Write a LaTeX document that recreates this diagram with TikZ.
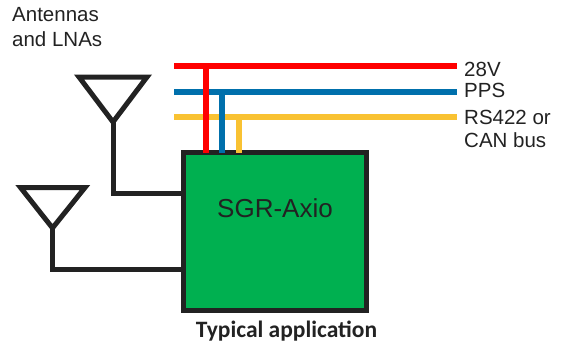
\documentclass[tikz,border=0pt]{standalone}
\usepackage{fontspec}
\setmainfont{Liberation Sans}
\newfontfamily\captionfont{Carlito}
\usetikzlibrary{positioning}
\definecolor{sgrGreen}{RGB}{0,176,80}
\definecolor{inkBlack}{RGB}{34,34,34}
\definecolor{busRed}{RGB}{255,0,0}
\definecolor{busBlue}{RGB}{0,112,172}
\definecolor{busYellow}{RGB}{249,194,50}
\tikzstyle{wire} = [line width=5pt, draw=inkBlack]
\tikzstyle{bus} = [line width=5.5pt]
\tikzstyle{busLabel} = [anchor=base west, inner sep=0pt, align=left, text=inkBlack, font=\fontsize{20.5}{23.5}\selectfont]

\begin{document}
\begin{tikzpicture}[x=1pt, y=-1pt]
    \useasboundingbox (0,0) rectangle (561,349);
    \node[draw=inkBlack, fill=sgrGreen, line width=5pt, minimum width=183pt, minimum height=158pt, anchor=north west] (sgr) at (181,150){};
    \node[inner sep=0pt, text=inkBlack, font=\fontsize{26}{30}\selectfont, above=23.5pt of sgr.center, anchor=center] (sgrName){SGR-Axio};
    \node[anchor=base, inner sep=0pt, text=inkBlack, font=\captionfont\bfseries\fontsize{23.5}{27}\selectfont] (caption) at ([xshift=11.5pt, yshift=-24pt]sgr.south){Typical application};
    % base of a two-line node is its last line
    \node[busLabel, font=\fontsize{20.5}{25}\selectfont] (antText) at (12,46){Antennas\\and LNAs};

    % antennas
    \coordinate (antTop) at (113,122);
    \coordinate (antLow) at (52.5,228);
    \draw[wire] (antTop) -- (79,77) -- (147,77) -- cycle;
    \draw[wire] (antLow) -- (20.5,187.5) -- (85,187.5) -- cycle;
    \draw[wire] (antTop) |- ([yshift=38.5pt]sgr.west);
    \draw[wire] (antLow) |- ([yshift=-37.5pt]sgr.west);

    % bus lines
    \coordinate (redL) at (174,66);   \coordinate (redR) at (457,66);
    \coordinate (blueL) at (174,92);  \coordinate (blueR) at (457,92);
    \coordinate (yelL) at (174,117);  \coordinate (yelR) at (457,117);
    \coordinate (tapRed) at (206,66);
    \coordinate (tapBlue) at (222,92);
    \coordinate (tapYel) at (239,117);
    \draw[bus, busRed] (redL) -- (redR);
    \draw[bus, busBlue] (blueL) -- (blueR);
    \draw[bus, busYellow] (yelL) -- (yelR);
    \draw[bus, busRed] (tapRed) -- ([yshift=-2.5pt]tapRed |- sgr.north);
    \draw[bus, busBlue] (tapBlue) -- ([yshift=-2.5pt]tapBlue |- sgr.north);
    \draw[bus, busYellow] (tapYel) -- ([yshift=-2.5pt]tapYel |- sgr.north);

    \node[busLabel] (v28) at ([xshift=7pt, yshift=-10.5pt]redR){28V};
    \node[busLabel] (pps) at ([xshift=7pt, yshift=-5pt]blueR){PPS};
    \node[busLabel] (rs422) at ([xshift=7pt, yshift=-30.5pt]yelR){RS422 or\\CAN bus};
\end{tikzpicture}
\end{document}
